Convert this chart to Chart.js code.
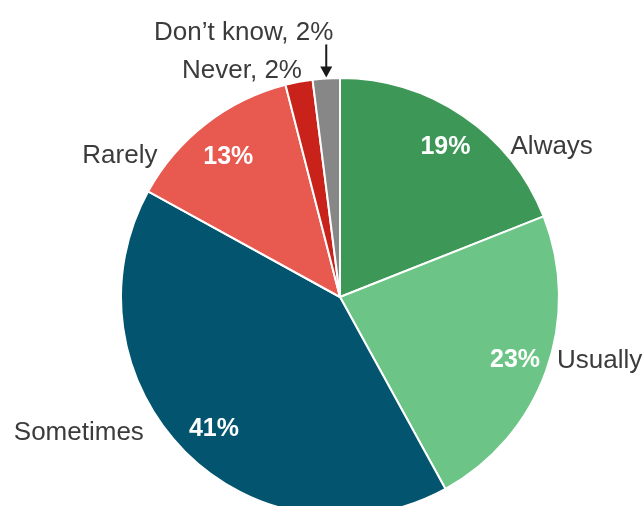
<!DOCTYPE html>
<html>
<head>
<meta charset="utf-8">
<title>How often</title>
<script src="https://cdn.jsdelivr.net/npm/chart.js@4/dist/chart.umd.min.js"></script>
<style>
  html, body { margin: 0; padding: 0; background: #fff; overflow: hidden; }
  #pieChart { display: block; }
</style>
</head>
<body>
<canvas id="pieChart" width="644" height="506"></canvas>
<script>
// answer categories and their share of responses (percent)
const categories = ['Always', 'Usually', 'Sometimes', 'Rarely', 'Never', 'Don\u2019t know'];
const shares = [19, 23, 41, 13, 2, 2];
const sliceColors = ['#3d9857', '#6cc586', '#03556f', '#e8594f', '#c9221a', '#878787'];

const FONT = '"Liberation Sans", Arial, sans-serif';
const TEXT = '#3b3b3b';

// label nudges per slice: gap from the pie edge, extra shifts
const labelNudge = [
  { gap: 13, dy: 0, px: 2, py: 0 },
  { gap: 7, dy: 0, px: 2, py: -1 },
  { gap: 23, dy: 4, px: 4, py: 0 },
  { gap: 17, dy: 2, px: 1, py: 3 },
  { dx: 3, lift: 4 },
  { dx: 7, lift: 38, arrow: true }
];

// draws the percentages inside the slices and the category names outside
const sliceLabels = {
  id: 'sliceLabels',
  afterDatasetsDraw(chart) {
    const ctx = chart.ctx;
    const meta = chart.getDatasetMeta(0);
    ctx.save();
    meta.data.forEach((arc, i) => {
      const p = arc.getProps(['x', 'y', 'startAngle', 'endAngle', 'outerRadius'], true);
      const mid = (p.startAngle + p.endAngle) / 2;
      const cos = Math.cos(mid), sin = Math.sin(mid);
      const r = p.outerRadius;
      const nudge = labelNudge[i];

      if (shares[i] >= 5) {
        // value inside
        const lx = p.x + cos * r * 0.84;
        const ly = p.y + sin * r * 0.84;
        ctx.font = 'bold 25px ' + FONT;
        ctx.fillStyle = '#ffffff';
        ctx.textAlign = 'center';
        ctx.textBaseline = 'alphabetic';
        ctx.fillText(shares[i] + '%', lx + nudge.px, ly + nudge.py + 9);

        // name beside the pie edge, same height
        const cy = ly + nudge.dy;
        const dyc = cy - p.y;
        const half = Math.sqrt(Math.max(r * r - dyc * dyc, 0));
        ctx.font = '26px ' + FONT;
        ctx.fillStyle = TEXT;
        if (cos >= 0) {
          ctx.textAlign = 'left';
          ctx.fillText(categories[i], p.x + half + nudge.gap, cy + 9);
        } else {
          ctx.textAlign = 'right';
          ctx.fillText(categories[i], p.x - half - nudge.gap, cy + 9);
        }
      } else {
        // thin slices: "name, value" above the rim
        const ox = p.x + cos * r;
        const oy = p.y + sin * r;
        ctx.font = '26px ' + FONT;
        ctx.fillStyle = TEXT;
        ctx.textAlign = 'right';
        ctx.textBaseline = 'alphabetic';
        ctx.fillText(categories[i] + ', ' + shares[i] + '%', ox + nudge.dx, oy - nudge.lift);

        if (nudge.arrow) {
          const top = oy - nudge.lift + 4;
          const tip = oy - 1;
          ctx.strokeStyle = '#1a1a1a';
          ctx.fillStyle = '#1a1a1a';
          ctx.lineWidth = 2;
          ctx.beginPath();
          ctx.moveTo(ox, top);
          ctx.lineTo(ox, tip - 8);
          ctx.stroke();
          ctx.beginPath();
          ctx.moveTo(ox - 6, tip - 11);
          ctx.lineTo(ox + 6, tip - 11);
          ctx.lineTo(ox, tip);
          ctx.closePath();
          ctx.fill();
        }
      }
    });
    ctx.restore();
  }
};

document.addEventListener('DOMContentLoaded', function () {
  const ctx = document.getElementById('pieChart');
  new Chart(ctx, {
    type: 'pie',
    data: {
      labels: categories,
      datasets: [{
        data: shares,
        backgroundColor: sliceColors,
        borderColor: '#ffffff',
        borderWidth: 2,
        radius: 219,
        clip: false
      }]
    },
    options: {
      responsive: false,
      animation: false,
      layout: {
        padding: { left: 36, right: 0, top: 88, bottom: 0 }
      },
      plugins: {
        legend: { display: false },
        tooltip: { enabled: false }
      }
    },
    plugins: [sliceLabels]
  });
});
</script>
</body>
</html>
